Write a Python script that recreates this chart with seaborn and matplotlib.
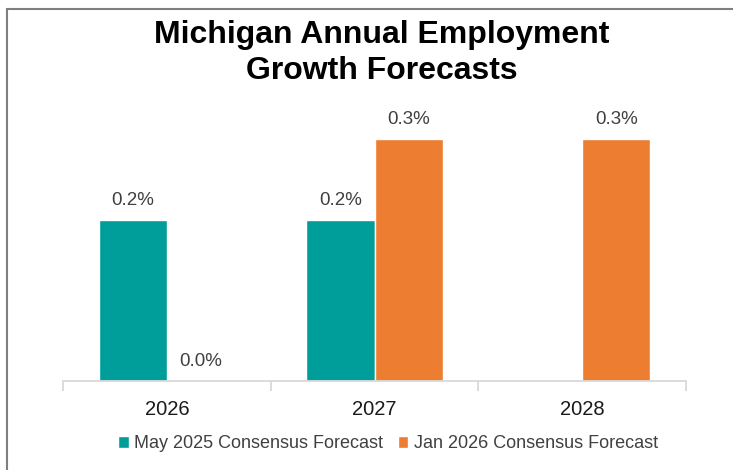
import numpy as np
import pandas as pd
import matplotlib
matplotlib.use("Agg")
import matplotlib.pyplot as plt
from matplotlib.patches import Rectangle
import seaborn as sns

# data
years = ["2026", "2027", "2028"]
may_2025 = [0.2, 0.2, np.nan]
jan_2026 = [0.0, 0.3, 0.3]
series_names = ["May 2025 Consensus Forecast", "Jan 2026 Consensus Forecast"]
colors = ["#009E9A", "#ED7D31"]

df = pd.DataFrame({
    "Year": years * 2,
    "Series": [series_names[0]] * 3 + [series_names[1]] * 3,
    "Growth": may_2025 + jan_2026,
})

sns.set_style("white")
plt.rcParams["font.family"] = ["Liberation Sans", "DejaVu Sans"]

fig = plt.figure(figsize=(7.33, 4.70), dpi=100)
ax = fig.add_axes([63 / 733, 89 / 470, 623 / 733, 282 / 470])

sns.barplot(data=df, x="Year", y="Growth", hue="Series", palette=colors,
            width=0.655, gap=0, ax=ax, saturation=1, legend=True)

for cont in ax.containers:
    labels = ["" if np.isnan(v) else f"{v:.1f}%" for v in cont.datavalues]
    ax.bar_label(cont, labels=labels, padding=8, fontsize=13.5, color="#404040")

ax.set_ylim(0, 0.35)
ax.set_xlim(-0.5, 2.5)
ax.set_xlabel("")
ax.set_ylabel("")
ax.set_yticks([])
for s in ["left", "right", "top"]:
    ax.spines[s].set_visible(False)
ax.spines["bottom"].set_color("#D9D9D9")
ax.spines["bottom"].set_linewidth(1.3)
ax.tick_params(axis="x", which="major", length=0, labelsize=14.5, pad=14, labelcolor="#1a1a1a")
ax.set_xticks([-0.5, 0.5, 1.5, 2.5], minor=True)
ax.tick_params(axis="x", which="minor", bottom=True, length=7, width=1.3,
               color="#D9D9D9", direction="out")

ax.legend_.remove()
handles, lbls = ax.get_legend_handles_labels()
fig.legend(handles, lbls, loc="center", bbox_to_anchor=(388 / 733, 1 - 444 / 470),
           ncol=2, frameon=False, fontsize=13, handlelength=0.6, handleheight=0.6,
           handletextpad=0.3, columnspacing=0.8, labelcolor="#404040")

fig.text(382 / 733, 1 - 53 / 470, "Michigan Annual Employment\nGrowth Forecasts",
         ha="center", va="center", fontsize=23, fontweight="bold", linespacing=1.25,
         color="black")

# grey outer border (right and bottom run off the image)
fig.patches.append(Rectangle((7 / 733, -0.05), 1.0, 1 - 9 / 470 + 0.05,
                             transform=fig.transFigure, fill=False,
                             edgecolor="#7F7F7F", linewidth=1.5))

fig.savefig("out.png", dpi=100)
